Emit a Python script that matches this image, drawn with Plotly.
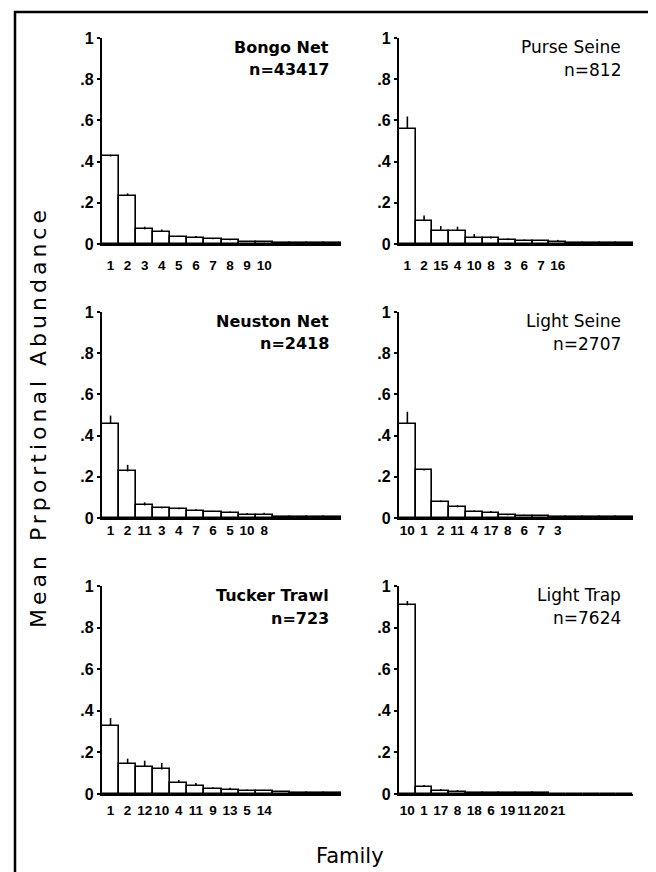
import plotly.graph_objects as go

# ---------------- data ----------------
panel_names = ["Bongo Net", "Purse Seine", "Neuston Net", "Light Seine", "Tucker Trawl", "Light Trap"]
panel_n = ["n=43417", "n=812", "n=2418", "n=2707", "n=723", "n=7624"]

bongo_labels = ["1", "2", "3", "4", "5", "6", "7", "8", "9", "10"]
bongo_vals = [0.425, 0.233, 0.071, 0.058, 0.034, 0.031, 0.023, 0.018, 0.011, 0.008, 0.006, 0.004, 0.005, 0.003]
bongo_err = [0.008, 0.013, 0.013, 0.013, 0.006, 0.008, 0.005, 0.005, 0.002, 0.002, 0.0, 0.0, 0.0, 0.0]

purse_labels = ["1", "2", "15", "4", "10", "8", "3", "6", "7", "16"]
purse_vals = [0.560, 0.114, 0.065, 0.065, 0.029, 0.027, 0.019, 0.016, 0.014, 0.010, 0.005, 0.004, 0.006, 0.004]
purse_err = [0.059, 0.024, 0.022, 0.019, 0.019, 0.010, 0.008, 0.006, 0.006, 0.010, 0.0, 0.0, 0.0, 0.0]

neuston_labels = ["1", "2", "11", "3", "4", "7", "6", "5", "10", "8"]
neuston_vals = [0.456, 0.226, 0.061, 0.047, 0.042, 0.034, 0.029, 0.024, 0.016, 0.015, 0.006, 0.004, 0.003, 0.004]
neuston_err = [0.041, 0.032, 0.015, 0.006, 0.008, 0.008, 0.006, 0.007, 0.008, 0.011, 0.0, 0.0, 0.0, 0.0]

lseine_labels = ["10", "1", "2", "11", "4", "17", "8", "6", "7", "3"]
lseine_vals = [0.456, 0.231, 0.077, 0.052, 0.029, 0.024, 0.013, 0.011, 0.008, 0.006, 0.005, 0.004, 0.003, 0.003]
lseine_err = [0.060, 0.003, 0.008, 0.011, 0.008, 0.010, 0.005, 0.005, 0.002, 0.002, 0.0, 0.0, 0.0, 0.0]

tucker_labels = ["1", "2", "12", "10", "4", "11", "9", "13", "5", "14"]
tucker_vals = [0.328, 0.144, 0.131, 0.118, 0.053, 0.040, 0.024, 0.019, 0.016, 0.014, 0.010, 0.006, 0.004, 0.004]
tucker_err = [0.037, 0.026, 0.029, 0.031, 0.014, 0.013, 0.008, 0.011, 0.006, 0.007, 0.0, 0.0, 0.0, 0.0]

ltrap_labels = ["10", "1", "17", "8", "18", "6", "19", "11", "20", "21"]
ltrap_vals = [0.907, 0.035, 0.016, 0.010, 0.006, 0.005, 0.004, 0.003, 0.003, 0.002, 0.002, 0.002, 0.002, 0.002]
ltrap_err = [0.021, 0.008, 0.008, 0.009, 0.003, 0.0, 0.0, 0.0, 0.0, 0.0, 0.0, 0.0, 0.0, 0.0]

y_tickvals = [0, 0.2, 0.4, 0.6, 0.8, 1]
y_ticktext = ["0", ".2", ".4", ".6", ".8", "1"]

panels = [
    (bongo_labels, bongo_vals, bongo_err),
    (purse_labels, purse_vals, purse_err),
    (neuston_labels, neuston_vals, neuston_err),
    (lseine_labels, lseine_vals, lseine_err),
    (tucker_labels, tucker_vals, tucker_err),
    (ltrap_labels, ltrap_vals, ltrap_err),
]

# ---------------- layout geometry (figure pixels; page adds an 8px body margin) ----------------
W, H = 648, 864
col_px = [(94, 333), (391, 625)]
row_px = [(30, 236), (304, 510), (578, 786)]
xlab_standoff = [8, -1, 3]

TICKFONT = dict(family="Liberation Sans, Arial, sans-serif", size=16, color="black", weight="bold")
XTICKFONT = dict(family="Liberation Sans, Arial, sans-serif", size=13.5, color="black", weight="bold")

fig = go.Figure()
layout = dict(
    width=W, height=H,
    margin=dict(l=0, r=0, t=0, b=0),
    paper_bgcolor="white", plot_bgcolor="white",
    showlegend=False, bargap=0,
    annotations=[], shapes=[],
)

for i, (labels, vals, err) in enumerate(panels):
    r, c = divmod(i, 2)
    k = "" if i == 0 else str(i + 1)
    xs = list(range(len(vals)))
    fig.add_trace(go.Bar(
        x=xs, y=vals,
        xaxis="x" + k, yaxis="y" + k,
        marker=dict(color="white", line=dict(color="black", width=1.6)),
        error_y=dict(type="data", symmetric=False, array=err, arrayminus=[0] * len(err),
                     width=0, thickness=1.6, color="black"),
        width=1.0,
    ))
    x0, x1 = col_px[c]
    yt, yb = row_px[r]
    layout["xaxis" + k] = dict(
        domain=[x0 / W, x1 / W], anchor="y" + k,
        range=[-0.5, len(vals) - 0.5],
        tickmode="array", tickvals=list(range(len(labels))), ticktext=labels,
        tickangle=0, ticks="", showgrid=False, zeroline=False,
        showline=True, linecolor="black", linewidth=2.2,
        tickfont=XTICKFONT, ticklabelstandoff=xlab_standoff[r],
        automargin=False, fixedrange=True,
    )
    layout["yaxis" + k] = dict(
        domain=[1 - yb / H, 1 - yt / H], anchor="x" + k,
        range=[0, 1],
        tickmode="array", tickvals=y_tickvals, ticktext=y_ticktext,
        ticks="outside", ticklen=3, tickwidth=1.5, tickcolor="black",
        showgrid=False, zeroline=False,
        showline=True, linecolor="black", linewidth=2.2,
        tickfont=TICKFONT, automargin=False, fixedrange=True,
    )
    tfont = dict(family="DejaVu Sans, sans-serif", color="black",
                 size=16 if c == 0 else 17, weight="bold" if c == 0 else "normal")
    layout["annotations"].append(dict(
        text=panel_names[i], xref="x%s domain" % k, yref="y%s domain" % k,
        x=1, y=0.956, xanchor="right", yanchor="middle", xshift=-10,
        showarrow=False, font=tfont,
    ))
    layout["annotations"].append(dict(
        text=panel_n[i], xref="x%s domain" % k, yref="y%s domain" % k,
        x=1, y=0.845, xanchor="right", yanchor="middle", xshift=-10,
        showarrow=False, font=tfont,
    ))

# overall axis labels
layout["annotations"].append(dict(
    text='<span style="letter-spacing:4px">Mean Prportional Abundance</span>',
    xref="paper", yref="paper",
    x=30 / W, y=1 - 409 / H, xanchor="center", yanchor="middle", textangle=-90,
    showarrow=False, font=dict(family="DejaVu Sans, sans-serif", size=22, color="black"),
))
layout["annotations"].append(dict(
    text="Family", xref="paper", yref="paper",
    x=342 / W, y=1 - 848 / H, xanchor="center", yanchor="middle",
    showarrow=False, font=dict(family="DejaVu Sans, sans-serif", size=21, color="black"),
))

# outer frame (open at the bottom, as in the scan)
layout["shapes"].append(dict(
    type="rect", xref="paper", yref="paper",
    x0=7 / W, x1=643 / W, y0=-0.05, y1=1 - 4 / H,
    line=dict(color="black", width=2.5), fillcolor="rgba(0,0,0,0)",
))

fig.update_layout(**layout)
fig.write_html("out.html")
